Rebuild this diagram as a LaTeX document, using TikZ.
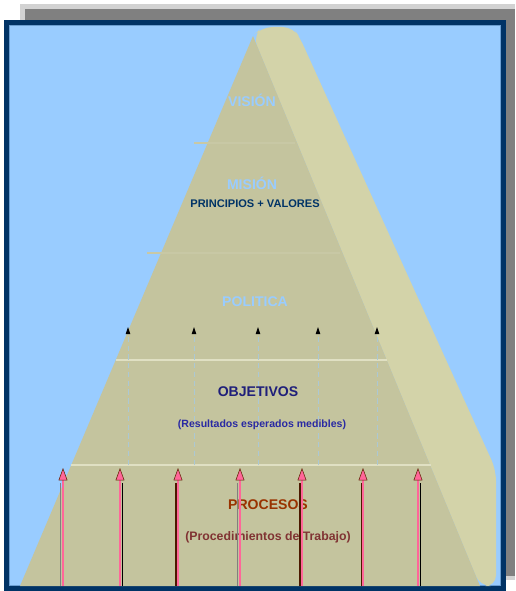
\documentclass[tikz,border=0pt]{standalone}
\usepackage{fontspec}
\setmainfont{Liberation Sans}
\usetikzlibrary{arrows.meta}
\definecolor{navy}{HTML}{003366}
\definecolor{sky}{HTML}{99CCFF}
\definecolor{khaki}{HTML}{C4C49E}
\definecolor{khakilt}{HTML}{D3D3A9}
\definecolor{rose}{HTML}{FF6699}
\definecolor{rust}{HTML}{993300}
\definecolor{ink}{HTML}{3333CC}

\begin{document}
\begin{tikzpicture}[x=0.02cm,y=-0.02cm,
  ttl/.style={font=\fontsize{8}{9}\selectfont\bfseries,inner sep=1pt},
  sub/.style={font=\fontsize{#1}{7.5}\selectfont\bfseries,inner sep=1pt},
  band/.style={draw=#1,line width=1pt},
  guide/.style={draw=sky!55!khaki,dashed,dash pattern=on 3pt off 2pt,line width=0.5pt,
    -{Triangle[length=4pt,width=2.5pt,black]}},
  up/.style={draw=rose,line width=1.3pt,-{Triangle[length=7pt,width=5pt,fill=rose,color=rust!60!black,line width=0.3pt]}}]
\useasboundingbox (0,0) rectangle (515,591);
\fill[gray!35] (20,4) rectangle (515,580);
\fill[gray] (25,9) rectangle (515,576);
\fill[navy] (4,20) rectangle (506,591);
\fill[sky] (9,25) rectangle (501,586);
\draw[sky!70!navy,line width=0.5pt] (9.5,25.5) rectangle (500.5,585.5);
\fill[khakilt,rounded corners=6pt] (253,36) -- (262,27) -- (293,27) -- (300,38)
  -- (496,470) -- (496,586) -- (480,586) -- cycle;
\fill[khaki] (253,36) -- (480,586) -- (20,586) -- cycle;
\draw[band=khaki!93!white] (194,143) -- (295,143);
\draw[band=khaki!93!white] (147,253) -- (340,253);
\draw[band=khakilt!70!white] (116,360) -- (387,360);
\draw[band=khakilt!70!white] (71,465) -- (431,465);
\node[ttl,text=sky] (vis) at (252,100) {VISIÓN};
\node[ttl,text=sky] (mis) at (252,183) {MISIÓN};
\node[sub=6.3,text=navy] (misv) at (255,204) {PRINCIPIOS + VALORES};
\node[ttl,text=sky] (pol) at (255,302) {POLITICA};
\node[ttl,text=ink!60!black] (obj) at (258,392) {OBJETIVOS};
\node[sub=6,text=ink!80!black] (objv) at (262,425) {(Resultados esperados medibles)};
\node[ttl,text=rust] (pro) at (268,505) {PROCESOS};
\node[sub=7,text=rust!75!ink] (prov) at (268,537) {(Procedimientos de Trabajo)};
\foreach \x [count=\i] in {128,194,258,318,377}{
  \coordinate (g\i) at (\x,465);
  \coordinate (h\i) at (\x,327);
  \draw[guide] (g\i) -- (h\i);
}
\foreach \x/\d/\c [count=\i] in {63/-2.5/gray,120/2.5/black,178/-2/rust!50!black,
    240/-2.5/gray,302/-2/rust!50!black,363/-1.5/rust!50!black,418/2.5/black}{
  \coordinate (a\i) at (\x,586);
  \coordinate (b\i) at (\x,468);
  \draw[\c,line width=0.9pt] ([xshift=\d*0.02cm]a\i) -- ([xshift=\d*0.02cm,yshift=-0.3cm]b\i);
  \draw[up] (a\i) -- (b\i);
}
\end{tikzpicture}
\end{document}
